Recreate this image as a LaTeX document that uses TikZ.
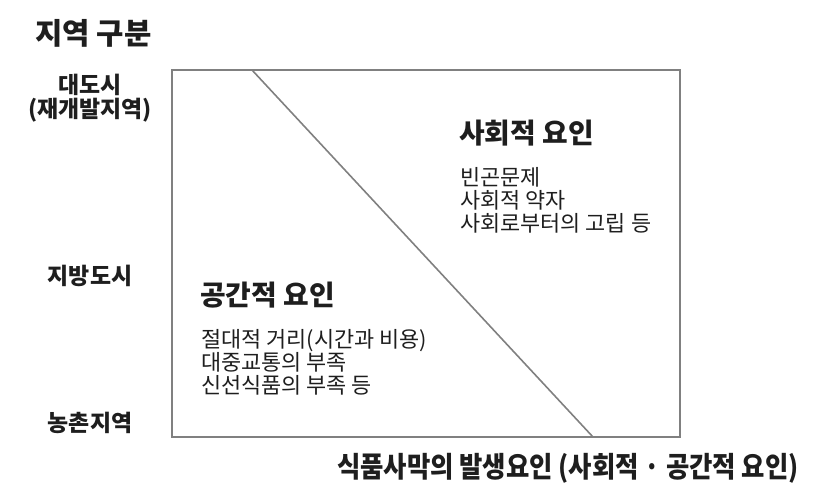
\documentclass[tikz,border=0pt]{standalone}
\usepackage{fontspec}
\setmainfont{Noto Sans CJK KR}
\newfontfamily\narrowfont[FakeStretch=0.885]{Noto Sans CJK KR}
\usepackage{tikz}
\usepackage{xcolor}
\usetikzlibrary{positioning}
\definecolor{frame_grey}{RGB}{128, 128, 128}
\definecolor{text_black}{RGB}{30, 30, 30}

\begin{document}
\begin{tikzpicture}[x=0.75pt, y=-0.75pt,
		label_bold/.style={font=\bfseries\fontsize{17.2}{19}\selectfont, text=text_black, inner sep=0pt},
		title_bold/.style={font=\bfseries\fontsize{20.9}{23}\selectfont, text=text_black, inner sep=0pt},
		body_text/.style={font=\fontsize{16.4}{17.4}\selectfont, text=text_black, inner sep=0pt, align=left}]
				\useasboundingbox (0,0) rectangle (820,501);
				% Draw the frame
				\draw[line width=1.5pt, draw=frame_grey] (172,70) rectangle (680,437);
				\coordinate (diag_top) at (252,70);
				\coordinate (diag_bottom) at (593,437);
				\draw[line width=1.2pt, draw=frame_grey] (diag_top) -- (diag_bottom);
				
				% Add region labels
				\node[title_bold, font=\bfseries\fontsize{22.3}{24}\selectfont, anchor=west] (region_title) at (35,33) {지역 구분};
				\node[label_bold] (metro) at (90,85) {대도시};
				\node[label_bold] (redev) at (90,110) {(재개발지역)};
				\node[label_bold] (local_city) at (90,276) {지방도시};
				\node[label_bold] (rural) at (90,423) {농촌지역};
				
				% social factors
				\node[title_bold, anchor=west] (social_title) at (459,133) {사회적 요인};
				\node[body_text, anchor=north west] (social_body) at (460,167) {빈곤문제\\사회적 약자\\사회로부터의 고립 등};
				
				% spatial factors
				\node[title_bold, anchor=west] (spatial_title) at (200,295) {공간적 요인};
				\node[body_text, anchor=north west] (spatial_body) at (201,329) {절대적 거리(시간과 비용)\\대중교통의 부족\\신선식품의 부족 등};
				
				% Add axis caption
				\node[title_bold, font=\narrowfont\bfseries\fontsize{21.5}{23}\selectfont, anchor=east] (cause_title) at (799,468) {식품사막의 발생요인 (사회적 · 공간적 요인)};
				
				\end{tikzpicture}
\end{document}
